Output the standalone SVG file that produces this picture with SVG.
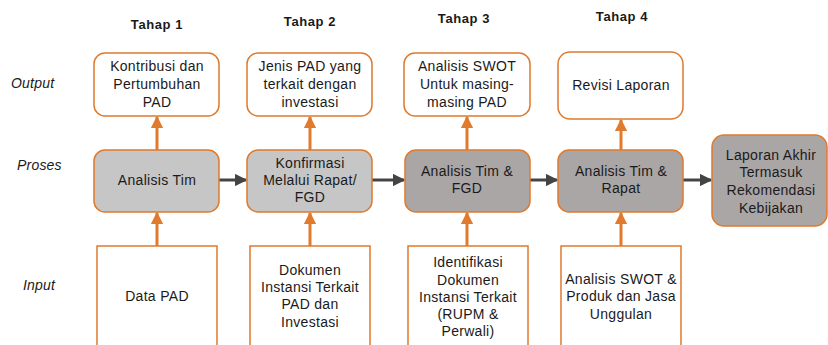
<svg xmlns="http://www.w3.org/2000/svg" width="828" height="345" viewBox="0 0 828 345">
  <defs>
    <style>
      text { font-family: "Liberation Sans", Arial, sans-serif; font-size: 14px; letter-spacing: 0.3px; fill: #1a1a1a; text-anchor: middle; }
      .stage { font-weight: bold; font-size: 13px; letter-spacing: 0.6px; }
      .row { font-style: italic; text-anchor: start; letter-spacing: 0.2px; }
      .out { fill: #ffffff; stroke: #e07a2c; stroke-width: 1.5; }
      .proc { fill: #c6c6c6; stroke: #e07a2c; stroke-width: 1.5; }
      .proc2 { fill: #aaa6a6; stroke: #e07a2c; stroke-width: 1.5; }
      .inp { fill: #ffffff; stroke: #e07a2c; stroke-width: 1.5; }
      .up { stroke: #e07a2c; stroke-width: 3; fill: none; }
      .flow { stroke: #444444; stroke-width: 3; fill: none; }
    </style>
    <marker id="headUp" viewBox="0 0 10 10" refX="9" refY="5" markerWidth="4.2" markerHeight="4.2" orient="auto" markerUnits="strokeWidth">
      <path d="M0,0 L10,5 L0,10 z" fill="#e07a2c"/>
    </marker>
    <marker id="headFlow" viewBox="0 0 10 10" refX="9" refY="5" markerWidth="4.2" markerHeight="4.2" orient="auto" markerUnits="strokeWidth">
      <path d="M0,0 L10,5 L0,10 z" fill="#444444"/>
    </marker>
  </defs>

  <rect width="828" height="345" fill="#ffffff"/>

  <!-- stage headings -->
  <g id="headings">
    <text class="stage" x="157" y="29">Tahap 1</text>
    <text class="stage" x="310" y="26">Tahap 2</text>
    <text class="stage" x="464" y="23">Tahap 3</text>
    <text class="stage" x="622" y="21">Tahap 4</text>
  </g>

  <!-- row labels -->
  <g id="rows">
    <text class="row" x="11" y="88">Output</text>
    <text class="row" x="17" y="170">Proses</text>
    <text class="row" x="23" y="290">Input</text>
  </g>

  <!-- connectors -->
  <g id="connectors">
    <line class="up" x1="157" y1="246" x2="157" y2="213" marker-end="url(#headUp)"/>
    <line class="up" x1="310" y1="246" x2="310" y2="213" marker-end="url(#headUp)"/>
    <line class="up" x1="467" y1="246" x2="467" y2="213" marker-end="url(#headUp)"/>
    <line class="up" x1="621" y1="246" x2="621" y2="213" marker-end="url(#headUp)"/>
    <line class="up" x1="157" y1="150" x2="157" y2="117" marker-end="url(#headUp)"/>
    <line class="up" x1="310" y1="150" x2="310" y2="117" marker-end="url(#headUp)"/>
    <line class="up" x1="467" y1="150" x2="467" y2="117" marker-end="url(#headUp)"/>
    <line class="up" x1="621" y1="150" x2="621" y2="120" marker-end="url(#headUp)"/>
    <line class="flow" x1="219" y1="180" x2="246" y2="180" marker-end="url(#headFlow)"/>
    <line class="flow" x1="372" y1="180" x2="404" y2="180" marker-end="url(#headFlow)"/>
    <line class="flow" x1="530" y1="180" x2="557" y2="180" marker-end="url(#headFlow)"/>
    <line class="flow" x1="683" y1="180" x2="711" y2="180" marker-end="url(#headFlow)"/>
  </g>

  <!-- output row -->
  <g id="out1">
    <rect class="out" x="94" y="53" width="125" height="63" rx="11"/>
    <text x="157" y="71">Kontribusi dan</text>
    <text x="157" y="89">Pertumbuhan</text>
    <text x="157" y="107">PAD</text>
  </g>
  <g id="out2">
    <rect class="out" x="247" y="53" width="125" height="63" rx="11"/>
    <text x="310" y="71">Jenis PAD yang</text>
    <text x="310" y="89">terkait dengan</text>
    <text x="310" y="107">investasi</text>
  </g>
  <g id="out3">
    <rect class="out" x="404" y="53" width="126" height="63" rx="11"/>
    <text x="467" y="71">Analisis SWOT</text>
    <text x="467" y="89">Untuk masing-</text>
    <text x="467" y="107">masing PAD</text>
  </g>
  <g id="out4">
    <rect class="out" x="558" y="52" width="125" height="67" rx="12"/>
    <text x="621" y="90">Revisi Laporan</text>
  </g>

  <!-- process row -->
  <g id="proc1">
    <rect class="proc" x="94" y="150" width="125" height="62" rx="11"/>
    <text x="157" y="185">Analisis Tim</text>
  </g>
  <g id="proc2">
    <rect class="proc" x="247" y="150" width="125" height="62" rx="11"/>
    <text x="310" y="168">Konfirmasi</text>
    <text x="310" y="185">Melalui Rapat/</text>
    <text x="310" y="202">FGD</text>
  </g>
  <g id="proc3">
    <rect class="proc2" x="405" y="150" width="125" height="62" rx="11"/>
    <text x="467" y="176">Analisis Tim &amp;</text>
    <text x="467" y="193">FGD</text>
  </g>
  <g id="proc4">
    <rect class="proc2" x="558" y="150" width="125" height="62" rx="11"/>
    <text x="621" y="176">Analisis Tim &amp;</text>
    <text x="621" y="193">Rapat</text>
  </g>
  <g id="proc5">
    <rect class="proc2" x="712" y="135" width="115" height="91" rx="12"/>
    <text x="771" y="160">Laporan Akhir</text>
    <text x="771" y="177">Termasuk</text>
    <text x="771" y="195">Rekomendasi</text>
    <text x="771" y="213">Kebijakan</text>
  </g>

  <!-- input row -->
  <g id="in1">
    <rect class="inp" x="97" y="246" width="120" height="110"/>
    <text x="157" y="301">Data PAD</text>
  </g>
  <g id="in2">
    <rect class="inp" x="250" y="246" width="120" height="110"/>
    <text x="310" y="275">Dokumen</text>
    <text x="310" y="292">Instansi Terkait</text>
    <text x="310" y="309">PAD dan</text>
    <text x="310" y="327">Investasi</text>
  </g>
  <g id="in3">
    <rect class="inp" x="408" y="246" width="120" height="110"/>
    <text x="468" y="267">Identifikasi</text>
    <text x="468" y="285">Dokumen</text>
    <text x="468" y="302">Instansi Terkait</text>
    <text x="468" y="319">(RUPM &amp;</text>
    <text x="468" y="336">Perwali)</text>
  </g>
  <g id="in4">
    <rect class="inp" x="561" y="246" width="120" height="110"/>
    <text x="621" y="284">Analisis SWOT &amp;</text>
    <text x="621" y="301">Produk dan Jasa</text>
    <text x="621" y="319">Unggulan</text>
  </g>
</svg>
